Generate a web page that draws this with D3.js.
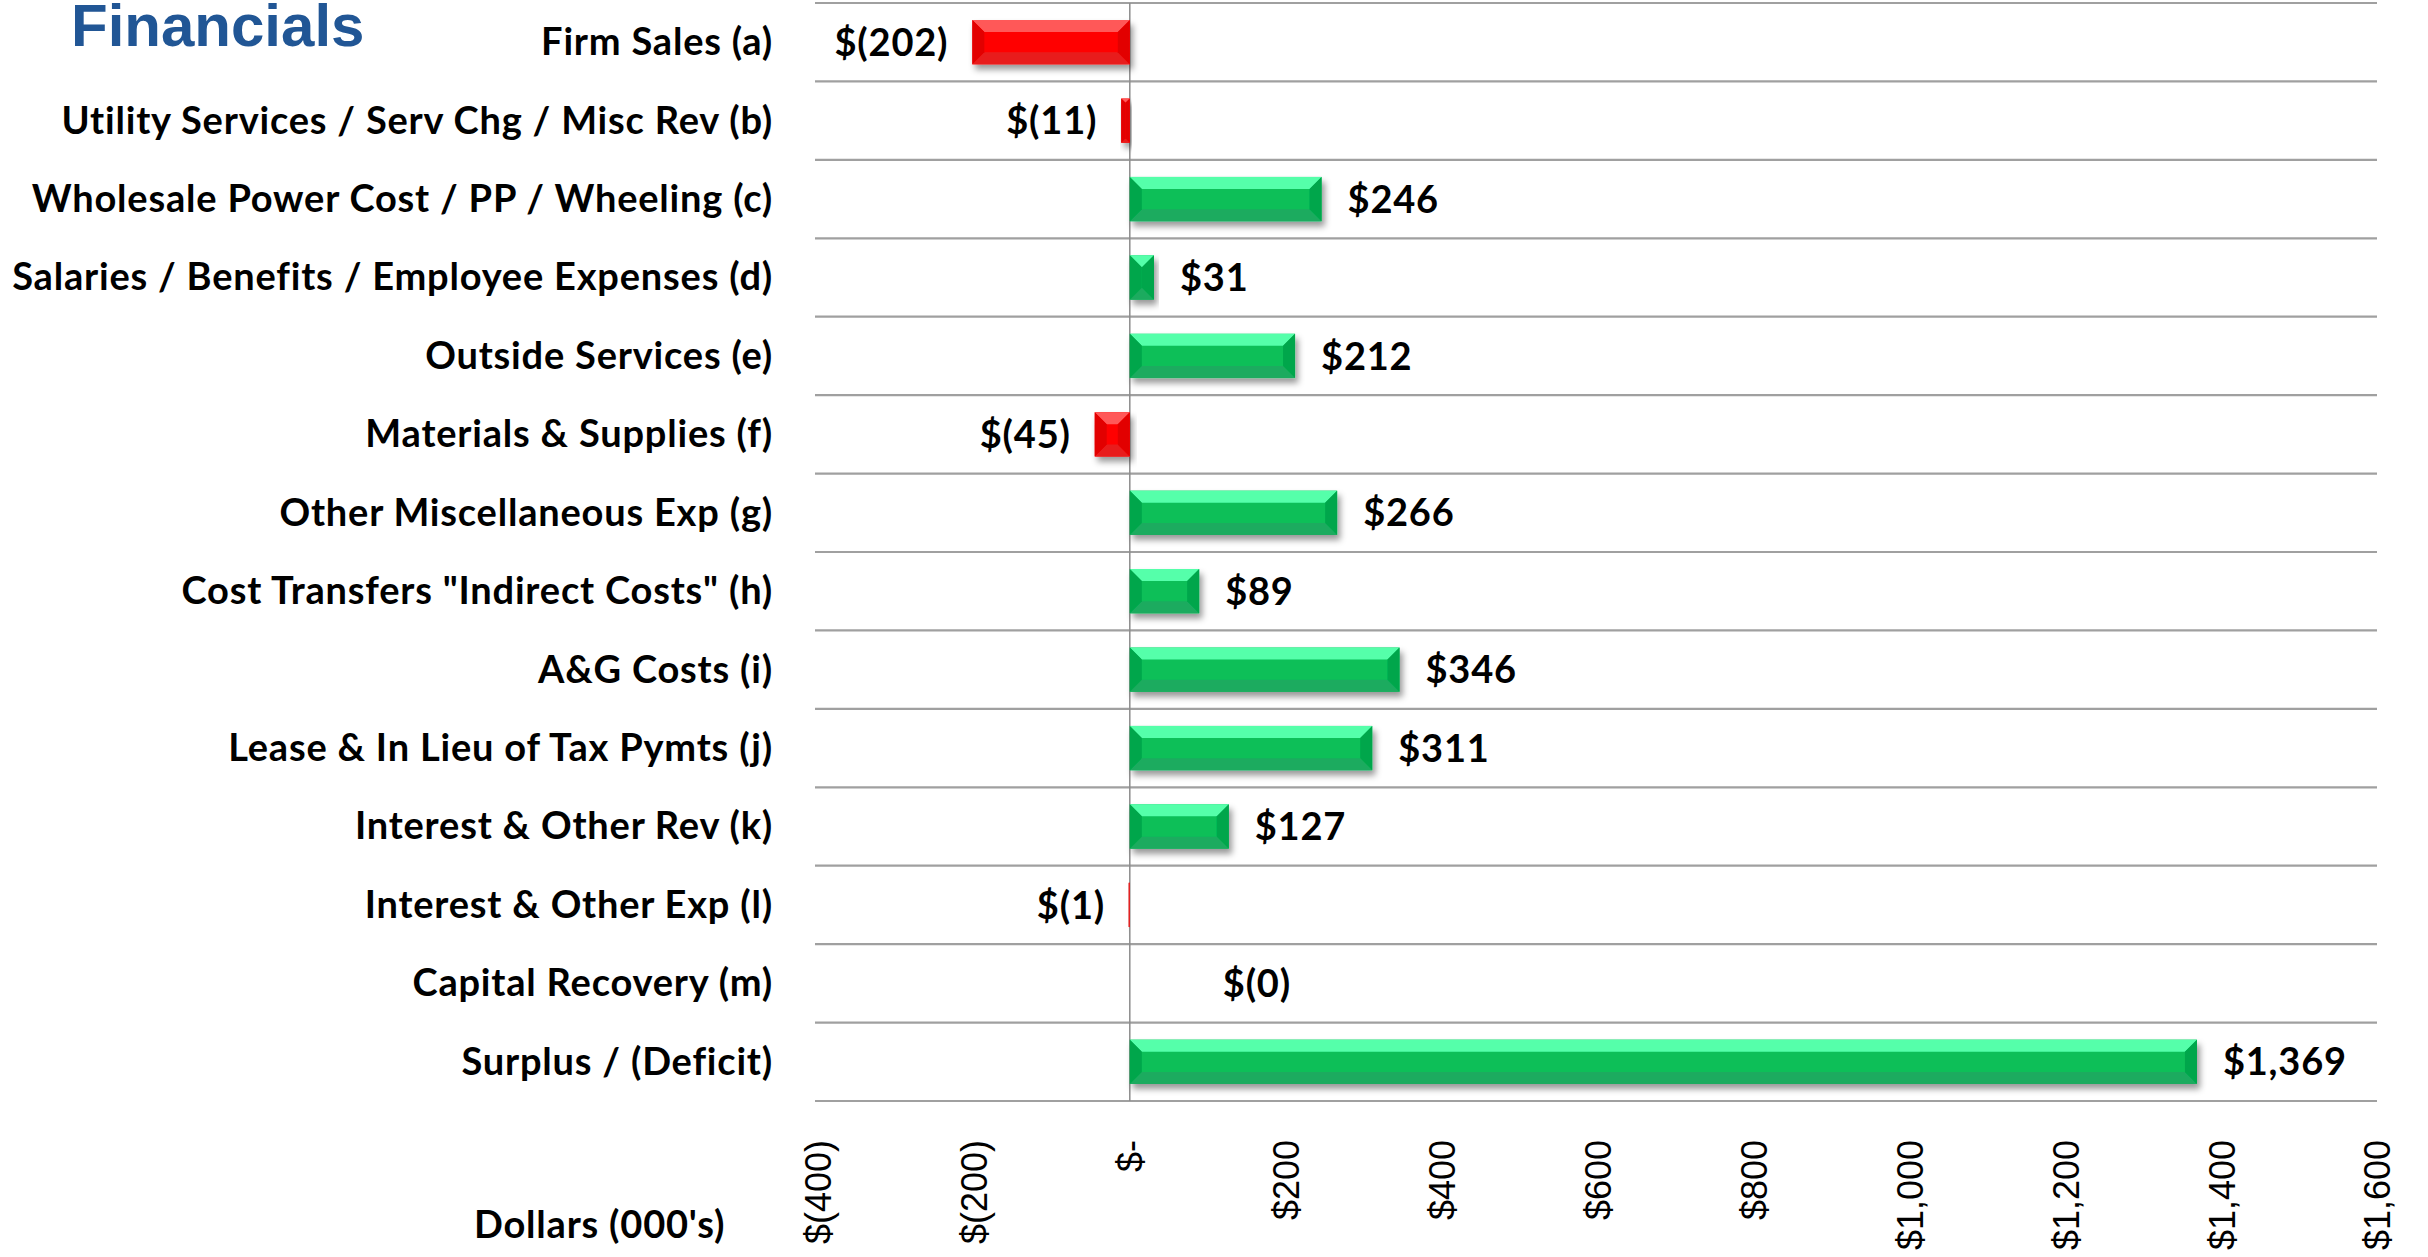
<!DOCTYPE html>
<html>
<head>
<meta charset="utf-8">
<script src="https://cdn.jsdelivr.net/npm/d3@7"></script>
<style>
  html, body { margin: 0; padding: 0; background: #ffffff; }
  svg { display: block; }
</style>
</head>
<body>
<div id="chart"></div>
<script>
// chart data
var categories = [
    "Firm Sales (a)",
    "Utility Services / Serv Chg / Misc Rev (b)",
    "Wholesale Power Cost / PP / Wheeling (c)",
    "Salaries / Benefits / Employee Expenses (d)",
    "Outside Services (e)",
    "Materials & Supplies (f)",
    "Other Miscellaneous Exp (g)",
    "Cost Transfers \"Indirect Costs\" (h)",
    "A&G Costs (i)",
    "Lease & In Lieu of Tax Pymts (j)",
    "Interest & Other Rev (k)",
    "Interest & Other Exp (l)",
    "Capital Recovery (m)",
    "Surplus / (Deficit)"
];
var values = [-202, -11, 246, 31, 212, -45, 266, 89, 346, 311, 127, -1, -0.3, 1369];
var tickValues = [-400, -200, 0, 200, 400, 600, 800, 1000, 1200, 1400, 1600];
var tickLabels = ["$(400)", "$(200)", "$-", "$200", "$400", "$600", "$800", "$1,000", "$1,200", "$1,400", "$1,600"];

function init() {

    var w = 2428;
    var h = 1257;

    var left = 818, right = 2377, top = 3, bottom = 1101;
    var labelFont = "Lato, 'Open Sans', sans-serif";
    var labelSize = 38;
    var labelSpacing = "0.8px";

    var svg = d3.select("#chart")
                .append("svg")
                .attr("width", w)
                .attr("height", h);

    var defs = svg.append("defs");
    defs.append("filter")
        .attr("id", "shadow")
        .attr("x", "-10%").attr("y", "-30%")
        .attr("width", "130%").attr("height", "170%")
        .append("feDropShadow")
        .attr("dx", 3).attr("dy", 5)
        .attr("stdDeviation", 3)
        .attr("flood-color", "#000")
        .attr("flood-opacity", 0.4);

    var xScale = d3.scaleLinear()
                   .domain([-400, 1600])
                   .range([left, right]);

    var yScale = d3.scaleBand()
                   .domain(categories)
                   .range([top, bottom])
                   .paddingInner(0.435)
                   .paddingOuter(0.2175);

    var step = yScale.step();

    // horizontal gridlines between rows
    var gridY = categories.map(function(c) {
        return yScale(c) + yScale.bandwidth() / 2 - step / 2;
    });
    gridY.push(bottom);

    svg.append("g")
       .selectAll("line")
       .data(gridY)
       .enter()
       .append("line")
       .attr("x1", xScale(-400) - 3)
       .attr("x2", xScale(1600))
       .attr("y1", function(d) { return d; })
       .attr("y2", function(d) { return d; })
       .attr("stroke", "#a0a0a0")
       .attr("stroke-width", 2.2);

    // zero line
    svg.append("line")
       .attr("x1", xScale(0)).attr("x2", xScale(0))
       .attr("y1", top).attr("y2", bottom)
       .attr("stroke", "#8c8c8c")
       .attr("stroke-width", 1.5);

    var green = { top: "#55ffaa", mid: "#08bf58", bot: "#1bab5f", side: "#00a64c" };
    var red = { top: "#ff5858", mid: "#ff0000", bot: "#e81e1e", side: "#e20000" };

    var rows = categories.map(function(c, i) { return { cat: c, value: values[i] }; });

    var bars = svg.append("g")
                  .selectAll("g")
                  .data(rows)
                  .enter()
                  .append("g")
                  .attr("filter", "url(#shadow)");

    bars.each(function(d) {
        var g = d3.select(this);
        var col = d.value < 0 ? red : green;
        var x0 = xScale(Math.min(0, d.value));
        var x1 = xScale(Math.max(0, d.value));
        var y0 = yScale(d.cat);
        var bh = yScale.bandwidth();
        var y1 = y0 + bh;
        var bw = x1 - x0;
        if (bw < 0.3) return;
        var b = Math.min(12, bw / 2, bh / 2);

        g.append("rect")
         .attr("x", x0).attr("y", y0)
         .attr("width", bw).attr("height", bh)
         .attr("fill", col.mid);

        function poly(pts, fill) {
            g.append("polygon")
             .attr("points", pts.map(function(p) { return p.join(","); }).join(" "))
             .attr("fill", fill);
        }
        poly([[x0, y0], [x1, y0], [x1 - b, y0 + b], [x0 + b, y0 + b]], col.top);
        poly([[x0, y1], [x1, y1], [x1 - b, y1 - b], [x0 + b, y1 - b]], col.bot);
        poly([[x0, y0], [x0 + b, y0 + b], [x0 + b, y1 - b], [x0, y1]], col.side);
        poly([[x1, y0], [x1 - b, y0 + b], [x1 - b, y1 - b], [x1, y1]], col.side);
    });

    // $(1) bar is a hairline
    svg.append("g")
       .selectAll("line")
       .data(rows.filter(function(d) { return Math.abs(xScale(d.value) - xScale(0)) < 2 && d.value !== 0 && Math.abs(d.value) >= 0.5; }))
       .enter()
       .append("line")
       .attr("x1", function(d) { return xScale(d.value); })
       .attr("x2", function(d) { return xScale(d.value); })
       .attr("y1", function(d) { return yScale(d.cat); })
       .attr("y2", function(d) { return yScale(d.cat) + yScale.bandwidth(); })
       .attr("stroke", "#e03030")
       .attr("stroke-width", 1.2);

    function fmt(v) {
        var r = Math.round(Math.abs(v));
        var s = d3.format(",")(r);
        return v < 0 ? "$(" + s + ")" : "$" + s;
    }

    // value labels
    svg.append("g")
       .selectAll("text")
       .data(rows)
       .enter()
       .append("text")
       .attr("x", function(d) {
           if (d.value < 0 && Math.round(Math.abs(d.value)) === 0) return xScale(0) + 93;
           return d.value < 0 ? xScale(d.value) - 24 : xScale(d.value) + 26;
       })
       .attr("y", function(d) { return yScale(d.cat) + yScale.bandwidth() / 2; })
       .attr("dy", "0.36em")
       .attr("text-anchor", function(d) {
           return (d.value < 0 && Math.round(Math.abs(d.value)) !== 0) ? "end" : "start";
       })
       .style("font-family", labelFont)
       .style("font-weight", "bold")
       .style("font-size", labelSize + "px")
       .style("letter-spacing", labelSpacing)
       .attr("fill", "#000")
       .text(function(d) { return fmt(d.value); });

    // category labels
    svg.append("g")
       .selectAll("text")
       .data(categories)
       .enter()
       .append("text")
       .attr("x", 773)
       .attr("y", function(d) { return yScale(d) + yScale.bandwidth() / 2; })
       .attr("dy", "0.34em")
       .attr("text-anchor", "end")
       .style("font-family", labelFont)
       .style("font-weight", "bold")
       .style("font-size", labelSize + "px")
       .style("letter-spacing", labelSpacing)
       .attr("fill", "#000")
       .text(function(d) { return d; });

    // x axis with rotated labels
    var xAxis = d3.axisBottom()
                  .scale(xScale)
                  .tickValues(tickValues)
                  .tickSize(0)
                  .tickFormat(function(d, i) { return tickLabels[i]; });

    var axisG = svg.append("g")
                   .attr("transform", "translate(0, 1140)")
                   .call(xAxis);
    axisG.select(".domain").remove();
    axisG.selectAll("text")
         .attr("x", 0)
         .attr("y", 0)
         .attr("dy", "0.36em")
         .attr("transform", "rotate(-90)")
         .attr("text-anchor", "end")
         .style("font-family", "'Liberation Sans', Arial, sans-serif")
         .style("font-size", "36px")
         .attr("fill", "#000");

    // axis title
    svg.append("text")
       .attr("x", 474)
       .attr("y", 1238)
       .style("font-family", labelFont)
       .style("font-weight", "bold")
       .style("font-size", labelSize + "px")
       .style("letter-spacing", labelSpacing)
       .attr("fill", "#000")
       .text("Dollars (000's)");

    // page title
    svg.append("text")
       .attr("x", 71)
       .attr("y", 46)
       .style("font-family", "'Liberation Sans', Arial, sans-serif")
       .style("font-weight", "bold")
       .style("font-size", "60px")
       .attr("fill", "#215695")
       .text("Financials");
}

window.onload = init;
</script>
</body>
</html>
